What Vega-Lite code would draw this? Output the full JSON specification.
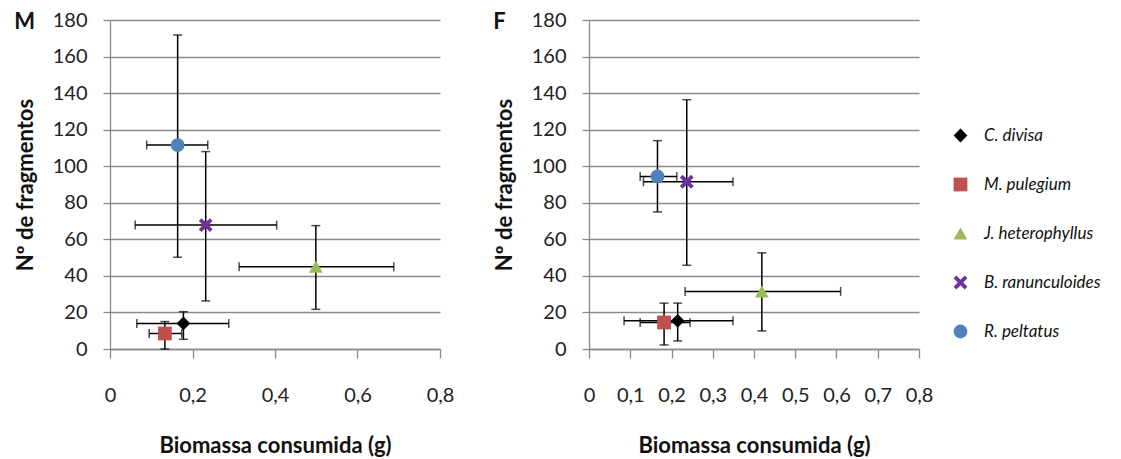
{
  "$schema": "https://vega.github.io/schema/vega-lite/v6.json",
  "padding": {"left": 14, "top": 10, "right": 5, "bottom": 5},
  "background": "white",
  "config": {
    "font": "Lato",
    "view": {"stroke": null},
    "concat": {"spacing": 39},
    "axis": {
      "labelFont": "Lato",
      "labelFontSize": 20,
      "labelColor": "#222222",
      "labelOverlap": false,
      "labelFlush": false,
      "titleFont": "Lato",
      "titleFontSize": 22,
      "titleFontWeight": "bold",
      "titleColor": "#111111",
      "domainColor": "#8a8a8a",
      "domainWidth": 1.3,
      "tickColor": "#8a8a8a",
      "tickWidth": 1.3,
      "gridColor": "#8a8a8a",
      "gridWidth": 1.3
    },
    "title": {"font": "Lato", "fontSize": 22, "fontWeight": "bold", "color": "#111111"}
  },
  "data": {
    "values": [
      {"panel": "M", "species": "C. divisa", "x": 0.178, "xlo": 0.065, "xhi": 0.288, "y": 14, "ylo": 5.3, "yhi": 20.4},
      {"panel": "M", "species": "M. pulegium", "x": 0.133, "xlo": 0.095, "xhi": 0.174, "y": 8.5, "ylo": 0, "yhi": 15},
      {"panel": "M", "species": "J. heterophyllus", "x": 0.499, "xlo": 0.313, "xhi": 0.688, "y": 45, "ylo": 21.7, "yhi": 67.5},
      {"panel": "M", "species": "B. ranunculoides", "x": 0.232, "xlo": 0.061, "xhi": 0.404, "y": 67.8, "ylo": 26.3, "yhi": 108},
      {"panel": "M", "species": "R. peltatus", "x": 0.164, "xlo": 0.089, "xhi": 0.237, "y": 111.6, "ylo": 50.2, "yhi": 171.8},
      {"panel": "F", "species": "C. divisa", "x": 0.215, "xlo": 0.085, "xhi": 0.349, "y": 15.4, "ylo": 4.4, "yhi": 25.1},
      {"panel": "F", "species": "M. pulegium", "x": 0.182, "xlo": 0.124, "xhi": 0.245, "y": 14.5, "ylo": 2.2, "yhi": 25.1},
      {"panel": "F", "species": "J. heterophyllus", "x": 0.419, "xlo": 0.233, "xhi": 0.61, "y": 31.5, "ylo": 9.9, "yhi": 52.6},
      {"panel": "F", "species": "B. ranunculoides", "x": 0.237, "xlo": 0.132, "xhi": 0.349, "y": 91.5, "ylo": 45.8, "yhi": 136.4},
      {"panel": "F", "species": "R. peltatus", "x": 0.166, "xlo": 0.124, "xhi": 0.213, "y": 94.4, "ylo": 75, "yhi": 114}
    ]
  },
  "resolve": {"scale": {"color": "shared", "shape": "shared"}, "legend": {"color": "shared", "shape": "shared"}},
  "hconcat": [
    {
      "width": 330,
      "height": 329,
      "title": {"text": "M", "anchor": "start", "frame": "bounds", "offset": -24},
      "transform": [{"filter": "datum.panel === 'M'"}],
      "encoding": {
        "x": {"type": "quantitative", "scale": {"domain": [0, 0.8], "nice": false, "zero": false},
          "axis": {"values": [0, 0.2, 0.4, 0.6, 0.8], "grid": false, "tickSize": 9, "labelPadding": 27, "titlePadding": 30,
            "labelExpr": "datum.value == 0 ? '0' : replace(format(datum.value, '.1f'), '.', ',')",
            "title": "Biomassa consumida (g)"}},
        "y": {"type": "quantitative", "scale": {"domain": [0, 180], "nice": false, "zero": false},
          "axis": {"values": [0, 20, 40, 60, 80, 100, 120, 140, 160, 180], "tickCount": 10, "grid": true, "tickSize": 7, "labelPadding": 16, "titlePadding": 15, "title": "Nº de fragmentos"}}
      },
      "layer": [
        {
          "mark": {"type": "rule", "color": "black", "strokeWidth": 1.5},
          "encoding": {"x": {"field": "xlo"}, "x2": {"field": "xhi"}, "y": {"field": "y"}}
        },
        {
          "mark": {"type": "rule", "color": "black", "strokeWidth": 1.5},
          "encoding": {"x": {"field": "x"}, "y": {"field": "ylo"}, "y2": {"field": "yhi"}}
        },
        {
          "mark": {"type": "tick", "orient": "vertical", "color": "black", "size": 9, "thickness": 1.5},
          "encoding": {"x": {"field": "xlo"}, "y": {"field": "y"}}
        },
        {
          "mark": {"type": "tick", "orient": "vertical", "color": "black", "size": 9, "thickness": 1.5},
          "encoding": {"x": {"field": "xhi"}, "y": {"field": "y"}}
        },
        {
          "mark": {"type": "tick", "orient": "horizontal", "color": "black", "size": 9, "thickness": 1.5},
          "encoding": {"x": {"field": "x"}, "y": {"field": "ylo"}}
        },
        {
          "mark": {"type": "tick", "orient": "horizontal", "color": "black", "size": 9, "thickness": 1.5},
          "encoding": {"x": {"field": "x"}, "y": {"field": "yhi"}}
        },
        {
          "mark": {"type": "point", "filled": true, "size": 190, "opacity": 1},
          "encoding": {
            "x": {"field": "x"},
            "y": {"field": "y"},
            "color": {"field": "species", "type": "nominal",
              "scale": {"domain": ["C. divisa", "M. pulegium", "J. heterophyllus", "B. ranunculoides", "R. peltatus"],
                "range": ["#000000", "#C0504D", "#9BBB59", "#7030A0", "#4F81BD"]},
              "legend": {"title": null, "orient": "none", "legendX": 842, "legendY": 107, "labelFont": "Lato", "labelFontStyle": "italic", "labelFontSize": 17, "labelColor": "#111111", "rowPadding": 31, "labelOffset": 15, "symbolSize": 190, "symbolStrokeWidth": 0}},
            "shape": {"field": "species", "type": "nominal",
              "scale": {"domain": ["C. divisa", "M. pulegium", "J. heterophyllus", "B. ranunculoides", "R. peltatus"],
                "range": ["diamond", "square", "triangle-up", "M-1,-0.6L-0.6,-1L0,-0.4L0.6,-1L1,-0.6L0.4,0L1,0.6L0.6,1L0,0.4L-0.6,1L-1,0.6L-0.4,0Z", "circle"]},
              "legend": {"title": null, "orient": "none", "legendX": 842, "legendY": 107, "labelFont": "Lato", "labelFontStyle": "italic", "labelFontSize": 17, "labelColor": "#111111", "rowPadding": 31, "labelOffset": 15, "symbolSize": 190, "symbolStrokeWidth": 0}}
          }
        }
      ]
    },
    {
      "width": 330,
      "height": 329,
      "title": {"text": "F", "anchor": "start", "frame": "bounds", "offset": -24},
      "transform": [{"filter": "datum.panel === 'F'"}],
      "encoding": {
        "x": {"type": "quantitative", "scale": {"domain": [0, 0.8], "nice": false, "zero": false},
          "axis": {"values": [0, 0.1, 0.2, 0.3, 0.4, 0.5, 0.6, 0.7, 0.8], "grid": false, "tickSize": 9, "labelPadding": 27, "titlePadding": 30,
            "labelExpr": "datum.value == 0 ? '0' : replace(format(datum.value, '.1f'), '.', ',')",
            "title": "Biomassa consumida (g)"}},
        "y": {"type": "quantitative", "scale": {"domain": [0, 180], "nice": false, "zero": false},
          "axis": {"values": [0, 20, 40, 60, 80, 100, 120, 140, 160, 180], "tickCount": 10, "grid": true, "tickSize": 7, "labelPadding": 16, "titlePadding": 15, "title": "Nº de fragmentos"}}
      },
      "layer": [
        {
          "mark": {"type": "rule", "color": "black", "strokeWidth": 1.5},
          "encoding": {"x": {"field": "xlo"}, "x2": {"field": "xhi"}, "y": {"field": "y"}}
        },
        {
          "mark": {"type": "rule", "color": "black", "strokeWidth": 1.5},
          "encoding": {"x": {"field": "x"}, "y": {"field": "ylo"}, "y2": {"field": "yhi"}}
        },
        {
          "mark": {"type": "tick", "orient": "vertical", "color": "black", "size": 9, "thickness": 1.5},
          "encoding": {"x": {"field": "xlo"}, "y": {"field": "y"}}
        },
        {
          "mark": {"type": "tick", "orient": "vertical", "color": "black", "size": 9, "thickness": 1.5},
          "encoding": {"x": {"field": "xhi"}, "y": {"field": "y"}}
        },
        {
          "mark": {"type": "tick", "orient": "horizontal", "color": "black", "size": 9, "thickness": 1.5},
          "encoding": {"x": {"field": "x"}, "y": {"field": "ylo"}}
        },
        {
          "mark": {"type": "tick", "orient": "horizontal", "color": "black", "size": 9, "thickness": 1.5},
          "encoding": {"x": {"field": "x"}, "y": {"field": "yhi"}}
        },
        {
          "mark": {"type": "point", "filled": true, "size": 190, "opacity": 1},
          "encoding": {
            "x": {"field": "x"},
            "y": {"field": "y"},
            "color": {"field": "species", "type": "nominal"},
            "shape": {"field": "species", "type": "nominal"}
          }
        }
      ]
    }
  ]
}
